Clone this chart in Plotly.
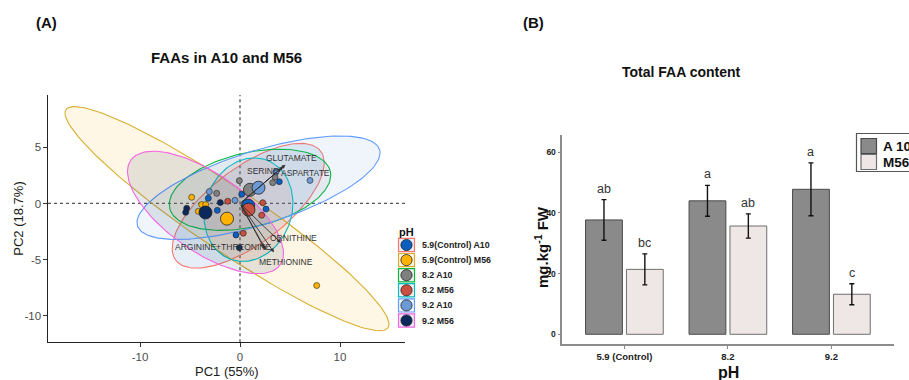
import numpy as np
import plotly.graph_objects as go

W, H = 909, 380
FONT = "Liberation Sans, Arial, sans-serif"

# ---------------- Panel A data (PCA) ----------------
groups = ["5.9(Control) A10", "5.9(Control) M56", "8.2 A10", "8.2 M56", "9.2 A10", "9.2 M56"]
point_colors = ["#0A5EBF", "#FFB300", "#808080", "#C9503E", "#6C9AD6", "#0B2A5B"]
ellipse_line_colors = ["#F8766D", "#D9AE2E", "#00BA38", "#00BFC4", "#619CFF", "#F564E3"]

# group means (PC1, PC2) = ellipse centres
mean_pc1 = [0.82, -1.30, 1.00, 0.85, 1.85, -3.45]
mean_pc2 = [-0.20, -1.35, 1.22, -0.55, 1.40, -0.80]
# ellipse semi-axes and orientation (data units, degrees)
ell_major = [8.73, 18.8, 8.2, 4.81, 12.57, 8.81]
ell_minor = [3.52, 2.9, 3.32, 4.22, 3.3, 3.59]
ell_angle = [32.5, -30.9, 10.95, 52.7, 15.35, -30.6]

# individual samples
sample_pc1 = [
    [0.17, 2.60, -2.27, -3.17, -0.40, 3.93],
    [-4.83, -3.83, -3.43, -4.17, 7.67],
    [-0.07, -2.33, 3.27, 3.50],
    [-1.23, 2.27, 2.17, 0.33],
    [-3.07, -0.50, 7.00, 3.60],
    [-5.33, -5.43, -0.07, -1.97],
]
sample_pc2 = [
    [0.82, -0.50, -0.61, 0.46, -2.80, 1.94],
    [0.55, -0.10, -0.10, -0.70, -7.30],
    [2.03, 0.90, 1.85, 2.35],
    [0.20, 0.07, -1.05, -2.65],
    [1.05, 0.28, 2.05, 2.80],
    [-0.43, -0.79, -3.93, 0.08],
]

# variable loadings (arrow tips)
loading_names = ["GLUTAMATE", "SERINE", "ASPARTATE", "ORNITHINE", "METHIONINE", "ARGININE", "THREONINE"]
loading_pc1 = [4.55, 4.15, 4.35, 4.10, 3.40, 2.60, 2.40]
loading_pc2 = [3.45, 3.15, 3.30, -3.50, -4.35, -4.15, -3.95]
label_texts = ["GLUTAMATE", "SERINE", "ASPARTATE", "ORNITHINE", "METHIONINE", "ARGININE+THREONINE"]
label_pc1 = [5.17, 2.30, 6.55, 5.30, 4.55, -1.70]
label_pc2 = [4.07, 2.90, 2.68, -3.10, -5.17, -3.84]

# axis ticks of panel A
pc1_ticks = [-10, 0, 10]
pc1_ticklabels = ["-10", "0", "10"]
pc2_ticks = [-10, -5, 0, 5]
pc2_ticklabels = ["-10", "-5", "0", "5"]

# ---------------- Panel B data (bars) ----------------
ph_levels = ["5.9 (Control)", "8.2", "9.2"]
a10_mean = [37.7, 44.0, 47.8]
a10_err = [6.7, 5.1, 8.7]
m56_mean = [21.4, 35.7, 13.2]
m56_err = [5.1, 4.0, 3.45]
a10_letters = ["ab", "a", "a"]
m56_letters = ["bc", "ab", "c"]
bar_names = ["A 10", "M56"]
bar_fill = ["#8A8A8A", "#EFE7E5"]
bar_edge = ["#4A4A4A", "#6E6E6E"]
content_ticks = [0, 20, 40, 60]


def px(x):
    return x / W


def py(y):
    return 1 - y / H


def rgba(hexc, a):
    h = hexc.lstrip("#")
    r, g, b = int(h[0:2], 16), int(h[2:4], 16), int(h[4:6], 16)
    return f"rgba({r},{g},{b},{a})"


fig = go.Figure()

# ellipses
for i, g in enumerate(groups):
    t = np.linspace(0, 2 * np.pi, 160)
    ang = np.deg2rad(ell_angle[i])
    ex = mean_pc1[i] + ell_major[i] * np.cos(t) * np.cos(ang) - ell_minor[i] * np.sin(t) * np.sin(ang)
    ey = mean_pc2[i] + ell_major[i] * np.cos(t) * np.sin(ang) + ell_minor[i] * np.sin(t) * np.cos(ang)
    fig.add_trace(go.Scatter(
        x=ex, y=ey, mode="lines", fill="toself",
        fillcolor=rgba(point_colors[i], 0.10),
        line=dict(color=ellipse_line_colors[i], width=1.1),
        hoverinfo="skip", showlegend=False, xaxis="x", yaxis="y"))

# samples
for i, g in enumerate(groups):
    fig.add_trace(go.Scatter(
        x=sample_pc1[i], y=sample_pc2[i], mode="markers",
        marker=dict(size=6, color=point_colors[i], line=dict(color="#222222", width=0.6)),
        name=g, showlegend=False, xaxis="x", yaxis="y"))

# group means
for i, g in enumerate(groups):
    fig.add_trace(go.Scatter(
        x=[mean_pc1[i]], y=[mean_pc2[i]], mode="markers",
        marker=dict(size=13, color=point_colors[i], line=dict(color="#222222", width=0.8)),
        name=g, showlegend=False, xaxis="x", yaxis="y"))

# bars
bar_means = [a10_mean, m56_mean]
bar_errs = [a10_err, m56_err]
for k in range(2):
    fig.add_trace(go.Bar(
        x=ph_levels, y=bar_means[k], name=bar_names[k],
        marker=dict(color=bar_fill[k], line=dict(color=bar_edge[k], width=1)),
        error_y=dict(type="data", array=bar_errs[k], color="#111111", thickness=1.4, width=2.5),
        showlegend=False, xaxis="x2", yaxis="y2"))

annotations = []
shapes = []

# loading arrows
for i, n in enumerate(loading_names):
    annotations.append(dict(
        x=loading_pc1[i], y=loading_pc2[i], ax=0, ay=0, xref="x", yref="y", axref="x", ayref="y",
        text="", showarrow=True, arrowhead=2, arrowsize=0.9, arrowwidth=0.9, arrowcolor="#333333"))
for i, t in enumerate(label_texts):
    annotations.append(dict(
        x=label_pc1[i], y=label_pc2[i], xref="x", yref="y", text=t, showarrow=False,
        font=dict(family=FONT, size=8.5, color="#333333")))

# zero reference lines
shapes.append(dict(type="line", xref="x", yref="y domain", x0=0, x1=0, y0=0, y1=1,
                   line=dict(color="#555555", width=1.3, dash="dot"), layer="below"))
shapes.append(dict(type="line", xref="x domain", yref="y", x0=0, x1=1, y0=0, y1=0,
                   line=dict(color="#555555", width=1.3, dash="dot"), layer="below"))

# letters above error bars
slot = (1 - 0.21) / 2
for j in range(len(ph_levels)):
    for k, (means, errs, letters) in enumerate([(a10_mean, a10_err, a10_letters),
                                                 (m56_mean, m56_err, m56_letters)]):
        annotations.append(dict(
            x=j + (k - 0.5) * slot, y=means[j] + errs[j], xref="x2", yref="y2",
            text=letters[j], showarrow=False, yanchor="bottom", yshift=2,
            font=dict(family=FONT, size=12.5, color="#333333")))

# Panel A legend (manual)
annotations.append(dict(x=px(397), y=py(232), xref="paper", yref="paper", text="<b>pH</b>",
                        showarrow=False, xanchor="left", yanchor="middle",
                        font=dict(family=FONT, size=11, color="#111111")))
for i, g in enumerate(groups):
    yc = 245 + 15.1 * i
    shapes.append(dict(type="rect", xref="paper", yref="paper",
                       x0=px(398.5), x1=px(414.5), y0=py(yc - 6.6), y1=py(yc + 6.6),
                       line=dict(color=ellipse_line_colors[i], width=1.2),
                       fillcolor=rgba(point_colors[i], 0.10)))
    shapes.append(dict(type="circle", xref="paper", yref="paper",
                       x0=px(406.5 - 5.6), x1=px(406.5 + 5.6), y0=py(yc - 5.6), y1=py(yc + 5.6),
                       line=dict(color="#222222", width=0.8), fillcolor=point_colors[i]))
    annotations.append(dict(x=px(420), y=py(yc), xref="paper", yref="paper", text=f"<b>{g}</b>",
                            showarrow=False, xanchor="left", yanchor="middle",
                            font=dict(family=FONT, size=8.8, color="#222222")))

# Panel B legend (manual, cut by the right edge as in the source)
shapes.append(dict(type="rect", xref="paper", yref="paper",
                   x0=px(856.5), x1=px(930), y0=py(171.5), y1=py(133.5),
                   line=dict(color="#555555", width=1.2), fillcolor="white"))
for k in range(2):
    yt = 138.5 + 16 * k
    shapes.append(dict(type="rect", xref="paper", yref="paper",
                       x0=px(861), x1=px(876.5), y0=py(yt + 15), y1=py(yt),
                       line=dict(color=bar_edge[k], width=1.2), fillcolor=bar_fill[k]))
    annotations.append(dict(x=px(881), y=py(yt + 7.8), xref="paper", yref="paper",
                            text=f"<b>{bar_names[k]}</b>", showarrow=False,
                            xanchor="left", yanchor="middle",
                            font=dict(family=FONT, size=13.5, color="#111111")))

# titles and axis titles
texts = [
    ("<b>(A)</b>", 46.5, 22.5, 15, "#111111", 0),
    ("<b>FAAs in A10 and M56</b>", 226.5, 57, 15, "#111111", 0),
    ("<b>(B)</b>", 533, 22.5, 15, "#111111", 0),
    ("<b>Total FAA content</b>", 681, 72, 14, "#111111", 0),
    ("PC1 (55%)", 226.5, 371.5, 13, "#1A1A1A", 0),
    ("PC2 (18.7%)", 17.7, 219, 13, "#1A1A1A", -90),
    ("<b>pH</b>", 728, 372.5, 16, "#111111", 0),
    ("<b>mg.kg<sup>-1</sup> FW</b>", 541, 247, 15, "#111111", -90),
]
for t, x, y, s, c, rot in texts:
    annotations.append(dict(x=px(x), y=py(y), xref="paper", yref="paper", text=t, showarrow=False,
                            xanchor="center", yanchor="middle", textangle=rot,
                            font=dict(family=FONT, size=s, color=c)))

fig.update_layout(
    width=W, height=H, margin=dict(l=0, r=0, t=0, b=0),
    paper_bgcolor="white", plot_bgcolor="white",
    font=dict(family=FONT),
    showlegend=False,
    barmode="group", bargap=0.21, bargroupgap=0.1,
    xaxis=dict(domain=[px(48), px(405)], range=[-19.2, 16.5], anchor="y",
               showline=True, linecolor="#222222", linewidth=1.1, showgrid=False, zeroline=False,
               ticks="outside", ticklen=3.5, tickcolor="#333333",
               tickvals=pc1_ticks, ticktext=pc1_ticklabels,
               tickfont=dict(family=FONT, size=11.5, color="#4D4D4D")),
    yaxis=dict(domain=[py(342.3), py(95)], range=[-12.35, 9.65], anchor="x",
               showline=True, linecolor="#222222", linewidth=1.1, showgrid=False, zeroline=False,
               ticks="outside", ticklen=3.5, tickcolor="#333333",
               tickvals=pc2_ticks, ticktext=pc2_ticklabels,
               tickfont=dict(family=FONT, size=11.5, color="#4D4D4D")),
    xaxis2=dict(domain=[px(562.3), px(893.5)], range=[-0.6, 2.6], anchor="y2", type="category",
                showline=True, linecolor="#8C8C8C", linewidth=1.5, showgrid=False, zeroline=False,
                ticks="outside", ticklen=3, tickcolor="#8C8C8C",
                tickfont=dict(family=FONT, size=9.5, color="#222222", weight="bold")),
    yaxis2=dict(domain=[py(344), py(135)], range=[-3.2, 65.7], anchor="x2",
                showline=True, linecolor="#8C8C8C", linewidth=1.5, showgrid=False, zeroline=False,
                ticks="outside", ticklen=3, tickcolor="#8C8C8C", tickvals=content_ticks,
                tickfont=dict(family=FONT, size=8.5, color="#222222", weight="bold")),
    annotations=annotations,
    shapes=shapes,
)

fig.write_html(
    "out.html",
    config={"displayModeBar": False},
    post_script="document.body.style.margin='0px';document.body.style.overflow='hidden';",
)
